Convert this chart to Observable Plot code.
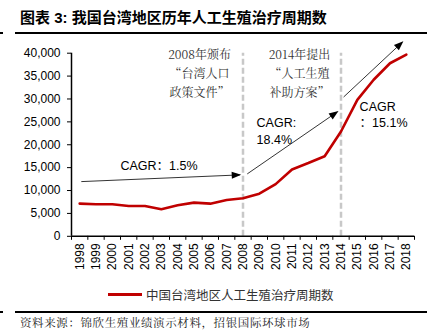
<!DOCTYPE html>
<html><head><meta charset="utf-8">
<script src="https://cdn.jsdelivr.net/npm/d3@7"></script>
<script src="https://cdn.jsdelivr.net/npm/@observablehq/plot@0.6"></script>
<style>
body{margin:0;background:#fff;width:442px;height:336px;overflow:hidden;position:relative;font-family:"Liberation Sans",Arial,"Noto Sans CJK SC",sans-serif;}
.abs{position:absolute;}
#title{left:20px;top:8px;font-size:15px;font-weight:bold;font-family:"Liberation Sans","Noto Sans CJK SC",sans-serif;color:#000;line-height:20px;white-space:nowrap;}
.rule{background:#000;height:2px;}
#legend{left:108px;top:286px;height:16px;display:flex;align-items:center;font-family:"Noto Sans CJK SC",sans-serif;font-size:12.5px;color:#333;white-space:nowrap;}
#legend .sw{width:34px;height:3px;background:#c00000;margin-right:4px;}
#source{left:20px;top:314px;font-family:"Noto Serif CJK SC","Noto Sans CJK SC",serif;font-size:11.5px;letter-spacing:0.6px;color:#222;white-space:nowrap;line-height:16px;}
#chart{left:0;top:35px;}
</style>
</head><body>
<div id="title" class="abs">图表 3: 我国台湾地区历年人工生殖治疗周期数</div>
<div class="abs rule" style="left:0;top:32px;width:3px;"></div>
<div class="abs rule" style="left:15px;top:32px;width:412px;"></div>
<div id="chart" class="abs"></div>
<div id="legend" class="abs"><div class="sw"></div><span>中国台湾地区人工生殖治疗周期数</span></div>
<div class="abs rule" style="left:0;top:311px;width:3px;"></div>
<div class="abs rule" style="left:15px;top:311px;width:412px;"></div>
<div id="source" class="abs">资料来源：锦欣生殖业绩演示材料，招银国际环球市场</div>
<script>
const years = [1998,1999,2000,2001,2002,2003,2004,2005,2006,2007,2008,2009,2010,2011,2012,2013,2014,2015,2016,2017,2018];
const cycles = [7130,7000,7000,6630,6630,5910,6780,7350,7130,7930,8300,9300,11400,14600,16000,17500,22900,29800,34200,37800,39700];
const yTicks = [0,5000,10000,15000,20000,25000,30000,35000,40000];
const policyYears = [2008, 2014];
// annotation arrows
const arrowX1 = [1998.1, 2008.26, 2014.16];
const arrowY1 = [11950, 13630, 30430];
const arrowX2 = [2007.8, 2013.77, 2017.75];
const arrowY2 = [13410, 27170, 42390];
// annotation texts
const noteText = [["2008年颁布","“台湾人口","政策文件”"],["2014年提出","“人工生殖","补助方案”"]];
const noteX = [2005.34, 2011.46];
const noteY = [39670, 35330, 31200];
const cagrMidText = ["CAGR：1.5%"];
const cagrMidX = [2002.86];
const cagrMidY = [15330];
const cagrText = ["CAGR:","18.4%","CAGR","：15.1%"];
const cagrX = [2008.83, 2008.83, 2015.14, 2015.14];
const cagrY = [24670, 20980, 28150, 24670];

const data = years.map((y,i)=>({year:y, value:cycles[i]}));
const halfTicks = d3.range(years.length+1).map(i=>years[0]-0.5+i);
const notes = [];
noteText.forEach((lines,j)=>lines.forEach((t,i)=>notes.push({t, x:noteX[j], y:noteY[i]})));
const cagrMid = cagrMidText.map((t,i)=>({t,x:cagrMidX[i],y:cagrMidY[i]}));
const cagr = cagrText.map((t,i)=>({t,x:cagrX[i],y:cagrY[i]}));
const arrows = arrowX1.map((x,i)=>({x1:x,y1:arrowY1[i],x2:arrowX2[i],y2:arrowY2[i]}));
const sans = '"Liberation Sans", Arial, "Noto Sans CJK SC", sans-serif';

const chart = Plot.plot({
  width: 442, height: 250,
  marginTop: 17.7, marginBottom: 49.2, marginLeft: 71, marginRight: 28,
  style: {fontFamily: sans, fontSize: "12px", color: "#000", background: "transparent", overflow: "visible"},
  x: {domain: [years[0]-0.5, years[years.length-1]+0.5]},
  y: {domain: [0, 40000]},
  marks: [
    Plot.ruleX(policyYears, {y1: 0, y2: 40000, stroke: "#c8c8c8", strokeWidth: 2.5, strokeDasharray: "6,3"}),
    Plot.axisY({ticks: yTicks, tickSize: 4, tickPadding: 7, tickFormat: d3.format(","), label: null, fontSize: 12}),
    Plot.axisX({ticks: years, tickSize: 0, tickPadding: 7, tickRotate: -90, tickFormat: d => String(d), label: null, fontSize: 12}),
    Plot.axisX({ticks: halfTicks, tickSize: 4, text: null, label: null}),
    Plot.ruleY([0], {stroke: "#000", strokeWidth: 1.5}),
    Plot.ruleX([years[0]-0.5], {y1: 0, y2: 40000, stroke: "#000", strokeWidth: 1.5}),
    Plot.line(data, {x: "year", y: "value", stroke: "#c00000", strokeWidth: 2.6}),
    Plot.link(arrows, {x1: "x1", y1: "y1", x2: "x2", y2: "y2", stroke: "#000", strokeWidth: 0.8, markerEnd: "arrow"}),
    Plot.text(notes, {x: "x", y: "y", text: "t", fontFamily: '"Noto Serif CJK SC", "Noto Sans CJK SC", serif', fontSize: 12, fill: "#333"}),
    Plot.text(cagrMid, {x: "x", y: "y", text: "t", textAnchor: "middle", fontFamily: sans, fontSize: 12.5, fill: "#000"}),
    Plot.text(cagr, {x: "x", y: "y", text: "t", textAnchor: "start", fontFamily: sans, fontSize: 12.5, fill: "#000"})
  ]
});
const svg = chart.tagName.toLowerCase() === "svg" ? chart : chart.querySelector("svg");
svg.querySelectorAll("marker").forEach(m => {
  m.setAttribute("markerUnits", "userSpaceOnUse");
  m.setAttribute("viewBox", "-10 -5 12 10");
  m.setAttribute("markerWidth", "12");
  m.setAttribute("markerHeight", "10");
  m.setAttribute("fill", "#000");
  m.setAttribute("stroke", "none");
  m.querySelectorAll("path").forEach(p => p.setAttribute("d", "M-8,-3.6L1.5,0L-8,3.6Z"));
});
document.getElementById("chart").appendChild(chart);
</script>
</body></html>
